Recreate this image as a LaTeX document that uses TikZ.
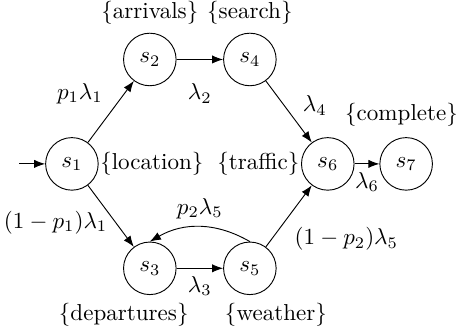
\documentclass[tikz,border=0pt]{standalone}
\usepackage{amsmath,amssymb}
\usetikzlibrary{arrows.meta,positioning}

\begin{document}
\begin{tikzpicture}[
  on grid, >={Latex},
  statenode/.style={draw, circle, minimum size=22.8pt, inner sep=0pt},
  tag/.style={inner sep=0.5pt}
]
  \useasboundingbox (-31.2pt,-74.2pt) rectangle (168.8pt,71.1pt);
  \node[statenode] (s1) at (0,0) {$s_1$};
  \node[statenode, above right=45.3pt and 33.8pt of s1, label=above:\{arrivals\}] (s2) {$s_2$};
  \node[statenode, right=43.4pt of s2, label=above:\{search\}] (s4) {$s_4$};
  \node[statenode, below right=45.3pt and 33.8pt of s1, label={[xshift=-11.3pt]below:\{departures\}}] (s3) {$s_3$};
  \node[statenode, right=43.4pt of s3, label={[xshift=11.3pt]below:\{weather\}}] (s5) {$s_5$};
  \node[statenode, right=111pt of s1, label={[tag]left:\{traffic\}}] (s6) {$s_6$};
  \node[statenode, right=34pt of s6, label={[label distance=1.4pt, xshift=-2pt]above:\{complete\}}] (s7) {$s_7$};
  \node[tag, right=0pt of s1.east, anchor=west] (loc) {\{location\}};
  \coordinate[left=11.3pt of s1.west] (init);

  \draw[->] (init) -- (s1);
  \draw[->] (s1) -- node[above left] {$p_1\lambda_1$} (s2);
  \draw[->] (s1) -- node[left, pos=0.6] {$(1-p_1)\lambda_1$} (s3);
  \draw[->] (s2) -- node[below=7pt] {$\lambda_2$} (s4);
  \draw[->] (s3) -- node[below] {$\lambda_3$} (s5);
  \draw[->] (s4) -- node[right=4.6pt, pos=0.4] {$\lambda_4$} (s6);
  \draw[->] (s5) -- node[below right, pos=0.45] {$(1-p_2)\lambda_5$} (s6);
  \draw[->] (s5.north) to[bend right] node[above] {$p_2\lambda_5$} (s3.north);
  \draw[->] (s6) -- node[below] {$\lambda_6$} (s7);
\end{tikzpicture}
\end{document}
